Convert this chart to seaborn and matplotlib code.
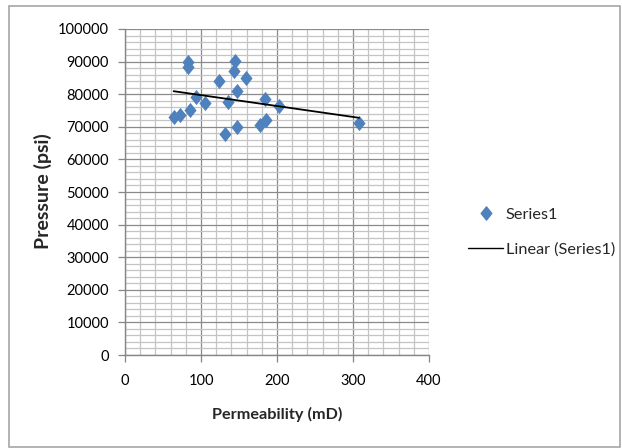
import numpy as np
import pandas as pd
import matplotlib
matplotlib.use("Agg")
import matplotlib.pyplot as plt
from matplotlib.lines import Line2D
from matplotlib.patches import Rectangle
from matplotlib.path import Path
from matplotlib.ticker import MultipleLocator
import seaborn as sns

# ---- data ----
permeability = [64, 72, 83, 83, 85, 93, 105, 124, 132, 135, 145, 143, 148, 148, 159, 178, 186, 184, 203, 308]
pressure = [73100, 73600, 89900, 88400, 75100, 79200, 77200, 84100, 67800, 77700,
            90300, 87200, 81100, 70000, 84900, 70600, 72000, 78500, 76400, 71200]
x_ticks = [0, 100, 200, 300, 400]
y_ticks = [0, 10000, 20000, 30000, 40000, 50000, 60000, 70000, 80000, 90000, 100000]
series_label = "Series1"
trend_label = "Linear (Series1)"
x_title = "Permeability (mD)"
y_title = "Pressure (psi)"

df = pd.DataFrame({"Permeability": permeability, "Pressure": pressure})

sns.set_style("white")
plt.rcParams["font.family"] = ["Lato", "DejaVu Sans"]

BLUE = "#4F81BD"
diamond = Path([(0, 1), (0.8, 0), (0, -1), (-0.8, 0), (0, 1)],
               [Path.MOVETO, Path.LINETO, Path.LINETO, Path.LINETO, Path.CLOSEPOLY])

fig = plt.figure(figsize=(6.22, 4.48), dpi=100)
ax = fig.add_axes([125 / 622, 1 - 355 / 448, 304 / 622, 326 / 448])

# gridlines
ax.set_xlim(0, 400)
ax.set_ylim(0, 100000)
ax.xaxis.set_major_locator(MultipleLocator(100))
ax.xaxis.set_minor_locator(MultipleLocator(20))
ax.yaxis.set_major_locator(MultipleLocator(10000))
ax.yaxis.set_minor_locator(MultipleLocator(2000))
ax.grid(which="minor", color="#c4c4c4", linewidth=0.9)
ax.grid(which="major", color="#8a8a8a", linewidth=0.9)
ax.set_axisbelow(True)

sns.regplot(data=df, x="Permeability", y="Pressure", scatter=False, ci=None,
            color="black", line_kws={"linewidth": 1.3, "zorder": 4}, ax=ax)
sns.scatterplot(data=df, x="Permeability", y="Pressure", marker=diamond, s=120,
                color=BLUE, edgecolor=BLUE, linewidth=0, zorder=3, ax=ax, legend=False)

ax.set_xticks(x_ticks)
ax.set_yticks(y_ticks)
ax.set_xticklabels([str(v) for v in x_ticks])
ax.set_yticklabels([str(v) for v in y_ticks])
ax.tick_params(axis="both", which="major", labelsize=10.5, length=5, width=0.9,
               color="#868686", labelcolor="black", direction="out")
ax.tick_params(axis="x", pad=9)
ax.tick_params(axis="y", pad=6.5)
ax.tick_params(which="minor", length=0)
ax.tick_params(left=True, bottom=True)

for s in ["top", "right"]:
    ax.spines[s].set_visible(False)
for s in ["left", "bottom"]:
    ax.spines[s].set_color("#868686")
    ax.spines[s].set_linewidth(1.0)

ax.set_xlabel("")
ax.set_ylabel("")
fig.text(277 / 622, 1 - 414 / 448, x_title, ha="center", va="center",
         fontsize=11.7, fontweight="bold")
fig.text(42.5 / 622, 1 - 191 / 448, y_title, ha="center", va="center",
         fontsize=14, fontweight="bold", rotation=90)

handles = [
    Line2D([], [], marker=diamond, linestyle="none", markersize=9.5,
           markerfacecolor=BLUE, markeredgecolor=BLUE),
    Line2D([], [], color="black", linewidth=1.0),
]
fig.legend(handles, [series_label, trend_label], loc="center left",
           bbox_to_anchor=(453.5 / 622, 1 - 232 / 448), frameon=False,
           fontsize=11.7, labelspacing=1.24, handlelength=2.15, handletextpad=0.15)

# chart-area border
fig.patches.append(Rectangle((9 / 622, 1 / 448), 611 / 622, 441 / 448,
                             transform=fig.transFigure, fill=False,
                             edgecolor="#a6a6a6", linewidth=1.2))

fig.savefig("out.png", dpi=100)
